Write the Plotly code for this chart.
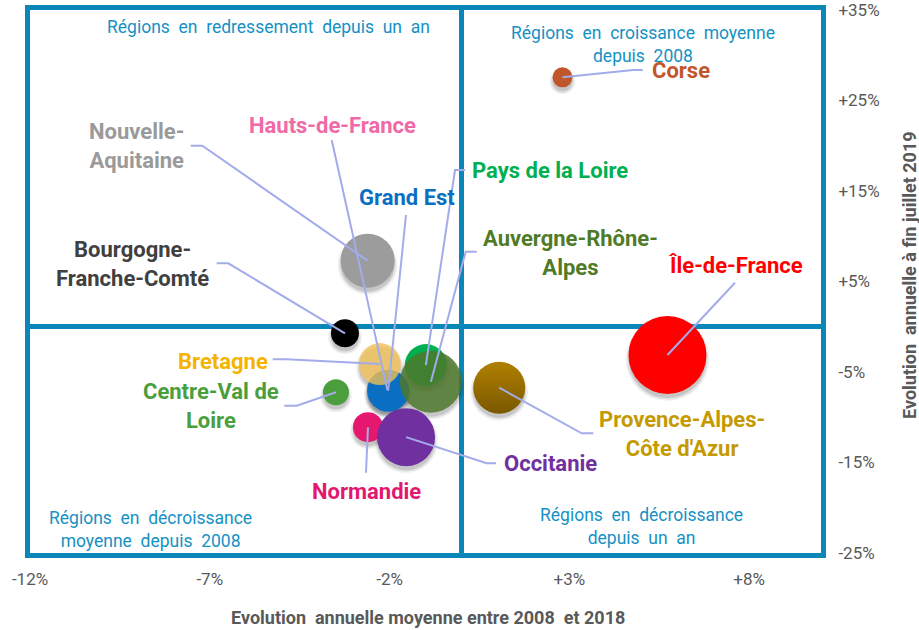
import plotly.graph_objects as go

# ---------------- data ----------------
regions = ["Nouvelle-Aquitaine", "Bourgogne-Franche-Comté", "Hauts-de-France", "Grand Est",
           "Bretagne", "Centre-Val de Loire", "Pays de la Loire", "Auvergne-Rhône-Alpes",
           "Normandie", "Occitanie", "Provence-Alpes-Côte d'Azur", "Île-de-France", "Corse"]
evol_2008_2018 = [-2.61, -3.24, -2.06, -2.04, -2.27, -3.49, -0.99, -0.85, -2.60, -1.54, 1.05, 5.73, 2.81]
evol_juillet_2019 = [7.30, -0.72, -7.0, -7.07, -4.12, -7.24, -4.23, -6.07, -11.1, -12.2, -6.73, -3.12, 27.56]
poids = [729, 196, 400, 441, 441, 169, 441, 961, 225, 841, 676, 1521, 100]

x_ticks = [-12, -7, -2, 3, 8]
x_tick_labels = ["-12%", "-7%", "-2%", "+3%", "+8%"]
y_ticks = [35, 25, 15, 5, -5, -15, -25]
y_tick_labels = ["+35%", "+25%", "+15%", "+5%", "-5%", "-15%", "-25%"]

quadrants = ["Régions en redressement depuis un an",
             "Régions en croissance moyenne<br>depuis 2008",
             "Régions en décroissance<br>moyenne depuis 2008",
             "Régions en décroissance<br>depuis un an"]

x_title = "Evolution  annuelle moyenne entre 2008  et 2018"
y_title = "Evolution  annuelle à fin juillet 2019"

# ---------------- styles / layout ----------------
W, H = 919, 630
ML, MR, MT, MB = 30, 98, 10, 77
X0, X1, Y0, Y1 = -12, 10, -25, 35
PW, PH = W - ML - MR, H - MT - MB


def dx(px):
    return X0 + (px - ML) / PW * (X1 - X0)


def dy(py):
    return Y1 - (py - MT) / PH * (Y1 - Y0)


def widen(t):
    return t.replace(" ", "\u00a0 ")


style = {
    "Nouvelle-Aquitaine": dict(fill="#9c9c9c", op=1, txt="#9a9a9a", label="Nouvelle-<br>Aquitaine",
                               lpos=(136, 146), path=[(190.7, 145.7), (202.3, 145.7)]),
    "Bourgogne-Franche-Comté": dict(fill="#000000", op=1, txt="#404040", label="Bourgogne-<br>Franche-Comté",
                                    lpos=(132, 264), path=[(216.7, 263.3), (228.3, 263.3)]),
    "Hauts-de-France": dict(fill="#ef6aa6", op=1, txt="#ef6aa6", label="Hauts-de-France",
                            lpos=(332, 125), path=[(331.7, 140)]),
    "Grand Est": dict(fill="#0a6fc2", op=1, txt="#0a6fc2", label="Grand Est",
                      lpos=(407, 197), path=[(406, 215)]),
    "Bretagne": dict(fill="#f2c255", op=0.78, txt="#f4b400", label="Bretagne",
                     lpos=(222.5, 361.7), path=[(272.7, 359.3), (286.7, 359.3)]),
    "Centre-Val de Loire": dict(fill="#4a9e3c", op=1, txt="#4a9e3c", label="Centre-Val de<br>Loire",
                                lpos=(211, 406), path=[(284.3, 405.7), (296.7, 405.7)]),
    "Pays de la Loire": dict(fill="#00b050", op=1, txt="#00b050", label="Pays de la Loire",
                             lpos=(550, 170), path=[(465, 170), (455, 170)]),
    "Auvergne-Rhône-Alpes": dict(fill="#4e782c", op=0.85, txt="#4f7b26", label="Auvergne-Rhône-<br>Alpes",
                                 lpos=(570, 252.5), path=[(476.7, 251.7), (465.7, 251.7)]),
    "Normandie": dict(fill="#e5176f", op=1, txt="#e3176f", label="Normandie",
                      lpos=(366, 491.7), path=[(366, 472.7)]),
    "Occitanie": dict(fill="#7030a0", op=1, txt="#7030a0", label="Occitanie",
                      lpos=(550.5, 463.3), path=[(496, 463.3), (486.7, 463.3)]),
    "Provence-Alpes-Côte d'Azur": dict(fill="#b08000", op=1, txt="#c49a00", label="Provence-Alpes-<br>Côte d'Azur",
                                       lpos=(681.5, 434), path=[(593.3, 433.3), (581.7, 433.3)]),
    "Île-de-France": dict(fill="#ff0000", op=1, txt="#ff0000", label="Île-de-France",
                          lpos=(735.5, 265.7), path=[(735, 282.7)]),
    "Corse": dict(fill="#c0572a", op=1, txt="#c0572a", label="Corse",
                  lpos=(681, 70.7), path=[(642.7, 70), (633.3, 70)]),
}

quad_pos = [(268.5, 27), (642.5, 44), (150, 529), (641.7, 526.5)]

FRAME = "#0a86b8"
LEADER = "#a3abea"
TICK = "#595959"
SIZEREF = 0.5

fig = go.Figure()

# soft drop shadows
for i, r in enumerate(regions):
    d = 2 * (poids[i] / (2 * SIZEREF)) ** 0.5
    for k, a in [(6, 0.05), (3, 0.08), (0, 0.11)]:
        fig.add_trace(go.Scatter(
            x=[evol_2008_2018[i]], y=[evol_juillet_2019[i] - (4 / PH) * (Y1 - Y0)],
            mode="markers", hoverinfo="skip", showlegend=False,
            marker=dict(size=d + k, color=f"rgba(0,0,0,{a})", line=dict(width=0))))

# bubbles
for i, r in enumerate(regions):
    s = style[r]
    marker = dict(size=[poids[i]], sizemode="area", sizeref=SIZEREF, color=s["fill"],
                  opacity=s["op"], line=dict(width=0))
    if r == "Provence-Alpes-Côte d'Azur":
        marker["gradient"] = dict(type="vertical", color="#7a5800")
    fig.add_trace(go.Scatter(x=[evol_2008_2018[i]], y=[evol_juillet_2019[i]], mode="markers",
                             marker=marker, name=r, showlegend=False))

# leader lines and labels
annotations = []
for i, r in enumerate(regions):
    s = style[r]
    xs = [dx(p[0]) for p in s["path"]] + [evol_2008_2018[i]]
    ys = [dy(p[1]) for p in s["path"]] + [evol_juillet_2019[i]]
    fig.add_trace(go.Scatter(x=xs, y=ys, mode="lines", hoverinfo="skip", showlegend=False,
                             line=dict(color=LEADER, width=2)))
    annotations.append(dict(x=dx(s["lpos"][0]), y=dy(s["lpos"][1]), xref="x", yref="y",
                            text="<b>" + s["label"] + "</b>", showarrow=False,
                            font=dict(family="Roboto", size=22, color=s["txt"]),
                            xanchor="center", yanchor="middle", align="center"))

for q, (px, py) in zip(quadrants, quad_pos):
    annotations.append(dict(x=dx(px), y=dy(py), xref="x", yref="y", text=widen(q), showarrow=False,
                            font=dict(family="Roboto", size=17.5, color="#1591c4"),
                            xanchor="center", yanchor="middle", align="center"))

annotations.append(dict(x=(428 - ML) / PW, y=-(617 - MT - PH) / PH, xref="paper", yref="paper",
                        text="<b>" + x_title + "</b>", showarrow=False,
                        font=dict(family="Roboto", size=18, color=TICK), xanchor="center", yanchor="middle"))
annotations.append(dict(x=(909 - ML) / PW, y=1 - (275 - MT) / PH, xref="paper", yref="paper",
                        text="<b>" + y_title + "</b>", showarrow=False, textangle=-90,
                        font=dict(family="Roboto", size=18, color=TICK), xanchor="center", yanchor="middle"))

fig.update_layout(
    width=W, height=H, margin=dict(l=ML, r=MR, t=MT, b=MB, autoexpand=False),
    paper_bgcolor="white", plot_bgcolor="white",
    font=dict(family="Roboto", color=TICK),
    showlegend=False, annotations=annotations,
    xaxis=dict(range=[X0, X1], tickvals=x_ticks, ticktext=x_tick_labels, showgrid=False,
               zeroline=True, zerolinecolor=FRAME, zerolinewidth=5, automargin=False,
               showline=True, linecolor=FRAME, linewidth=5, mirror=True, ticklabeloverflow="allow",
               ticks="", ticklabelstandoff=7, tickfont=dict(size=17, color=TICK), fixedrange=True),
    yaxis=dict(range=[Y0, Y1], tickvals=y_ticks, ticktext=y_tick_labels, showgrid=False, side="right",
               zeroline=True, zerolinecolor=FRAME, zerolinewidth=5, automargin=False,
               showline=True, linecolor=FRAME, linewidth=5, mirror=True, ticklabeloverflow="allow",
               ticks="", ticklabelstandoff=9, tickfont=dict(size=17, color=TICK), fixedrange=True),
)

fig.write_html("out.html", config={"displayModeBar": False})

with open("out.html", "r", encoding="utf-8") as f:
    html = f.read()
html = html.replace("<body>", '<body style="margin:0;padding:0;overflow:hidden">', 1)
with open("out.html", "w", encoding="utf-8") as f:
    f.write(html)
